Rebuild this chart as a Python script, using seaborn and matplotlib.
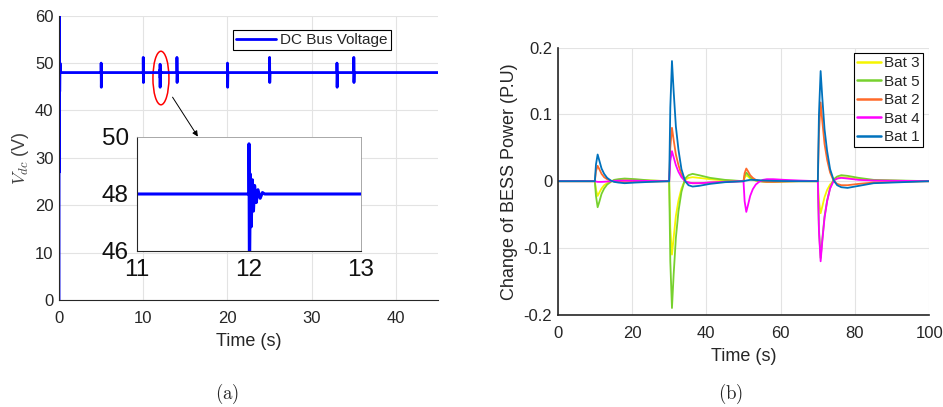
import matplotlib
matplotlib.use("Agg")
import matplotlib.pyplot as plt
from matplotlib.patches import Ellipse
import numpy as np
import pandas as pd
import seaborn as sns

# ---- (a) DC bus voltage ----
v_nominal = 48.0
v_end = 45.0
start_t = [0.0, 0.01, 0.03, 0.05, 0.08, 0.12, 0.2]
start_v = [0.0, 60.0, 27.0, 54.5, 44.0, 50.0, 48.0]
spike_t = [5, 10, 14, 20, 25, 33, 35]
spike_hi = [50.0, 51.2, 51.2, 50.0, 51.2, 50.0, 51.2]
spike_lo = [44.9, 45.9, 45.9, 44.9, 45.9, 44.9, 45.9]
# detail of the transient at 12 s (zoomed inset)
ring_t0 = 12.0
ring_dt = [0.0, 0.004, 0.012, 0.02, 0.03, 0.04, 0.05, 0.065, 0.08, 0.1, 0.12, 0.14]
ring_v = [49.76, 44.9, 48.7, 46.85, 48.5, 47.4, 48.3, 47.7, 48.15, 47.85, 48.05, 48.0]

# ---- (b) change of BESS power ----
events = [10, 30, 50, 70]
offsets = [0, 0.3, 0.75, 1.2, 1.8, 2.5, 3.3, 4.3, 5.2, 6.3, 8, 11, 15]
bat1 = [0, 0.025, 0.040, 0.031, 0.019, 0.011, 0.005, 0.001, -0.001, -0.002, -0.003, -0.002, -0.001,
        0, 0.11, 0.18, 0.135, 0.082, 0.047, 0.018, 0.0, -0.006, -0.008, -0.007, -0.004, -0.0015,
        0, 0.0005, 0.001, 0.0015, 0.002, 0.002, 0.0018, 0.0015, 0.001, 0.0008, 0.0005, 0.0002, 0,
        0, 0.1, 0.165, 0.125, 0.078, 0.045, 0.018, 0.001, -0.006, -0.009, -0.01, -0.007, -0.003]
bat2 = [0, 0.015, 0.023, 0.018, 0.011, 0.006, 0.003, 0.0005, -0.0005, -0.001, -0.0015, -0.001, -0.0005,
        0, 0.05, 0.08, 0.062, 0.04, 0.024, 0.01, 0.0, -0.002, -0.003, -0.003, -0.002, -0.001,
        0, 0.012, 0.019, 0.015, 0.009, 0.005, 0.002, 0.0, -0.0005, -0.001, -0.001, -0.0005, 0,
        0, 0.072, 0.118, 0.09, 0.056, 0.032, 0.013, 0.0, -0.004, -0.006, -0.006, -0.004, -0.002]
bat3 = [0, -0.013, -0.022, -0.017, -0.011, -0.006, -0.003, 0.0, 0.001, 0.002, 0.003, 0.002, 0.001,
        0, -0.07, -0.11, -0.085, -0.052, -0.029, -0.011, 0.002, 0.005, 0.006, 0.005, 0.003, 0.001,
        0, 0.005, 0.009, 0.007, 0.004, 0.002, 0.001, 0, 0, -0.0005, -0.0005, 0, 0,
        0, -0.03, -0.048, -0.038, -0.024, -0.013, -0.005, 0.001, 0.004, 0.006, 0.005, 0.003, 0.001]
bat4 = [0, -0.0005, -0.001, -0.001, -0.001, -0.0008, -0.0005, 0, 0.0005, 0.0008, 0.001, 0.0007, 0.0003,
        0, 0.03, 0.045, 0.036, 0.024, 0.014, 0.006, 0.0, -0.002, -0.003, -0.003, -0.002, -0.001,
        0, -0.03, -0.046, -0.036, -0.022, -0.012, -0.005, -0.0005, 0.002, 0.003, 0.003, 0.002, 0.001,
        0, -0.075, -0.12, -0.09, -0.055, -0.03, -0.011, 0.001, 0.004, 0.005, 0.004, 0.002, 0.001]
bat5 = [0, -0.022, -0.039, -0.031, -0.019, -0.011, -0.005, -0.001, 0.002, 0.003, 0.004, 0.003, 0.001,
        0, -0.12, -0.19, -0.14, -0.085, -0.045, -0.016, 0.004, 0.009, 0.011, 0.009, 0.005, 0.002,
        0, 0.008, 0.013, 0.01, 0.006, 0.003, 0.001, 0.0, -0.0005, -0.001, -0.001, -0.0005, 0,
        0, -0.072, -0.115, -0.087, -0.053, -0.029, -0.01, 0.003, 0.007, 0.009, 0.008, 0.005, 0.002]
bat_names = ["Bat 3", "Bat 5", "Bat 2", "Bat 4", "Bat 1"]
bat_colors = ["#f5f500", "#77d12e", "#ff6a2a", "#ff00ff", "#0072bd"]

sns.set_style("white")
plt.rcParams["font.family"] = ["Liberation Sans", "DejaVu Sans"]
plt.rcParams["mathtext.fontset"] = "cm"

# build voltage trace
vt = list(start_t)
vv = list(start_v)
spikes = sorted(zip(spike_t, spike_hi, spike_lo))
ring_done = False
for t, hi, lo in spikes + [(v_end, None, None)]:
    if not ring_done and t > ring_t0:
        vt += [ring_t0] + [ring_t0 + d for d in ring_dt]
        vv += [v_nominal] + ring_v
        ring_done = True
    if hi is None:
        vt.append(t)
        vv.append(v_nominal)
        break
    vt += [t, t, t + 0.02, t + 0.05]
    vv += [v_nominal, hi, lo, v_nominal]
volt = pd.DataFrame({"t": vt, "v": vv})

# build power table
bt = [0.0]
for T in events:
    bt += [T + o for o in offsets]
bt.append(100.0)
series = {"Bat 1": bat1, "Bat 2": bat2, "Bat 3": bat3, "Bat 4": bat4, "Bat 5": bat5}
rows = []
for name, vals in series.items():
    for t, p in zip(bt, [0.0] + vals + [0.0]):
        rows.append((t, p, name))
power = pd.DataFrame(rows, columns=["t", "p", "bat"])

fig = plt.figure(figsize=(9.43, 4.07), dpi=100)
ax1 = fig.add_axes([0.0626, 0.2629, 0.4019, 0.6985])
ax2 = fig.add_axes([0.5914, 0.2268, 0.3941, 0.6560])
axin = fig.add_axes([0.1453, 0.3833, 0.2375, 0.2801])


def matlab_axes(ax, lw=0.8):
    ax.grid(True, color="#e3e3e3", lw=0.8)
    ax.set_axisbelow(True)
    for s in ["top", "right"]:
        ax.spines[s].set_visible(False)
    for s in ["left", "bottom"]:
        ax.spines[s].set_color("#262626")
        ax.spines[s].set_linewidth(lw)
    ax.tick_params(direction="in", length=3.5, width=0.8, labelsize=12,
                   colors="#262626", pad=8)


# (a)
sns.lineplot(data=volt, x="t", y="v", ax=ax1, estimator=None, sort=False,
             color="#0000ff", lw=2, label="DC Bus Voltage")
ax1.set_xlim(0, 45)
ax1.set_ylim(0, 60)
ax1.set_xticks([0, 10, 20, 30, 40])
ax1.set_yticks(np.arange(0, 61, 10))
matlab_axes(ax1)
ax1.tick_params(axis="y", pad=4)
ax1.set_xlabel("Time (s)", fontsize=13, labelpad=5)
ax1.set_ylabel("$V_{dc}$ (V)", fontsize=13, color="#404040", labelpad=3)
ax1.legend(loc="upper right", bbox_to_anchor=(0.876, 0.95), fontsize=11,
           frameon=True, fancybox=False, edgecolor="black", framealpha=1,
           handlelength=2.6, handletextpad=0.3, borderpad=0.2,
           borderaxespad=0).get_frame().set_linewidth(0.8)
ax1.add_patch(Ellipse((12.1, 46.85), 1.9, 11.3, fill=False, ec="red", lw=1.1))
ax1.annotate("", xy=(16.66, 34.0), xytext=(13.3, 43.3),
             arrowprops=dict(arrowstyle="-|>", color="black", lw=0.7,
                             mutation_scale=8))

sns.lineplot(data=volt, x="t", y="v", ax=axin, estimator=None, sort=False,
             color="#0000ff", lw=2.2, legend=False)
axin.set_xlim(11, 13)
axin.set_ylim(46, 50)
axin.set_xticks([11, 12, 13])
axin.set_yticks([46, 48, 50])
axin.set_facecolor("white")
axin.grid(False)
for s in ["left", "bottom"]:
    axin.spines[s].set_color("#262626")
    axin.spines[s].set_linewidth(0.8)
for s in ["top", "right"]:
    axin.spines[s].set_color("#9a9a9a")
    axin.spines[s].set_linewidth(0.6)
axin.tick_params(direction="in", length=3, labelsize=17.5, colors="#111111", pad=6)
axin.set_xlabel("")
axin.set_ylabel("")

# (b)
sns.lineplot(data=power, x="t", y="p", hue="bat", hue_order=bat_names,
             palette=bat_colors, ax=ax2, estimator=None, sort=False, lw=1.3)
ax2.set_xlim(0, 100)
ax2.set_ylim(-0.2, 0.2)
ax2.set_xticks(np.arange(0, 101, 20))
ax2.set_yticks([-0.2, -0.1, 0, 0.1, 0.2])
ax2.set_yticklabels(["-0.2", "-0.1", "0", "0.1", "0.2"])
matlab_axes(ax2, lw=1.2)
ax2.tick_params(axis="y", pad=4)
ax2.set_xlabel("Time (s)", fontsize=13, labelpad=5)
ax2.set_ylabel("Change of BESS Power (P.U)", fontsize=13, labelpad=4)
leg = ax2.legend(loc="upper right", bbox_to_anchor=(0.983, 0.98), fontsize=11,
                 frameon=True, fancybox=False, edgecolor="black", framealpha=1,
                 handlelength=1.6, handletextpad=0.2, borderpad=0.2,
                 labelspacing=0.3, borderaxespad=0, title=None)
leg.get_frame().set_linewidth(0.8)
for line in leg.get_lines():
    line.set_linewidth(1.8)

fig.text(0.2407, 0.02, r"$(\mathrm{a})$", fontsize=13.5, ha="center")
fig.text(0.7752, 0.02, r"$(\mathrm{b})$", fontsize=13.5, ha="center")

fig.savefig("out.png", dpi=100)
